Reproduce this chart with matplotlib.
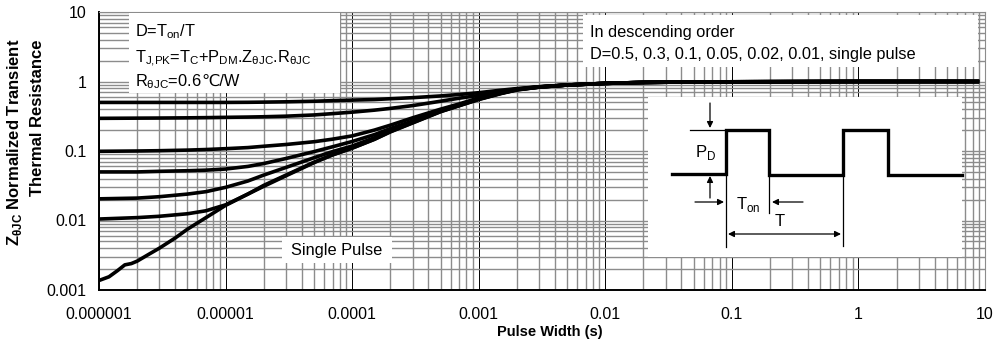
import matplotlib
matplotlib.use("Agg")
import matplotlib.pyplot as plt
from matplotlib.patches import Rectangle
from matplotlib.ticker import LogLocator, NullFormatter

plt.rcParams['font.family'] = ['Liberation Sans', 'DejaVu Sans']
plt.rcParams['mathtext.fontset'] = 'custom'
plt.rcParams['mathtext.rm'] = 'Liberation Sans'
plt.rcParams['mathtext.bf'] = 'Liberation Sans:bold'

# pulse width (s) and normalized Zth curves
t_single = [1e-6, 1.2e-6, 1.4e-6, 1.6e-6, 1.8e-6, 2e-6, 2.5e-6, 3e-6, 4e-6, 5e-6, 7e-6,
            1e-5, 1.5e-5, 2e-5, 3e-5, 5e-5, 7e-5, 1e-4, 1.5e-4, 2e-4, 3e-4, 5e-4, 7e-4,
            1e-3, 1.5e-3, 2e-3, 3e-3, 5e-3, 1e-2, 2e-2, 5e-2, 0.1, 1, 9]
z_single = [0.00137, 0.00155, 0.0019, 0.0023, 0.0024, 0.0026, 0.0033, 0.0040, 0.0056, 0.0075, 0.011,
            0.0165, 0.024, 0.031, 0.044, 0.068, 0.088, 0.11, 0.147, 0.188, 0.253, 0.368, 0.448,
            0.55, 0.67, 0.755, 0.83, 0.89, 0.94, 0.97, 0.985, 0.99, 1.0, 1.0]

t_duty = [1e-6, 2e-6, 3e-6, 5e-6, 7e-6, 1e-5, 1.5e-5, 2e-5, 3e-5, 5e-5, 7e-5, 1e-4, 1.5e-4,
          2e-4, 3e-4, 5e-4, 7e-4, 1e-3, 1.5e-3, 2e-3, 3e-3, 5e-3, 1e-2, 2e-2, 5e-2, 0.1, 1, 9]
z_d05 = [0.50, 0.50, 0.50, 0.50, 0.50, 0.50, 0.502, 0.505, 0.51, 0.52, 0.53, 0.54, 0.55,
         0.565, 0.585, 0.62, 0.65, 0.69, 0.75, 0.79, 0.84, 0.89, 0.94, 0.97, 0.985, 0.99, 1.0, 1.0]
z_d03 = [0.295, 0.297, 0.298, 0.300, 0.302, 0.305, 0.308, 0.311, 0.317, 0.33, 0.345, 0.362, 0.387,
         0.41, 0.45, 0.52, 0.575, 0.63, 0.72, 0.78, 0.84, 0.89, 0.94, 0.97, 0.985, 0.99, 1.0, 1.0]
z_d01 = [0.099, 0.100, 0.101, 0.103, 0.105, 0.108, 0.112, 0.117, 0.124, 0.136, 0.148, 0.165, 0.20,
         0.235, 0.30, 0.40, 0.475, 0.58, 0.70, 0.77, 0.835, 0.89, 0.94, 0.97, 0.985, 0.99, 1.0, 1.0]
z_d005 = [0.050, 0.050, 0.051, 0.052, 0.053, 0.055, 0.060, 0.066, 0.078, 0.098, 0.115, 0.137, 0.172,
          0.21, 0.27, 0.38, 0.46, 0.57, 0.69, 0.77, 0.835, 0.89, 0.94, 0.97, 0.985, 0.99, 1.0, 1.0]
z_d002 = [0.0205, 0.021, 0.022, 0.024, 0.026, 0.030, 0.037, 0.045, 0.058, 0.080, 0.098, 0.118, 0.155,
          0.195, 0.26, 0.375, 0.455, 0.56, 0.68, 0.765, 0.83, 0.89, 0.94, 0.97, 0.985, 0.99, 1.0, 1.0]
z_d001 = [0.0105, 0.011, 0.0115, 0.0125, 0.0138, 0.0168, 0.024, 0.032, 0.045, 0.069, 0.088, 0.11, 0.148,
          0.19, 0.255, 0.37, 0.45, 0.555, 0.675, 0.76, 0.83, 0.89, 0.94, 0.97, 0.985, 0.99, 1.0, 1.0]

x_ticks = [1e-6, 1e-5, 1e-4, 1e-3, 1e-2, 1e-1, 1, 10]
x_labels = ['0.000001', '0.00001', '0.0001', '0.001', '0.01', '0.1', '1', '10']
y_ticks = [0.001, 0.01, 0.1, 1, 10]
y_labels = ['0.001', '0.01', '0.1', '1', '10']

fig = plt.figure(figsize=(9.95, 3.41), dpi=100)
ax = fig.add_axes([99 / 995, 51 / 341, 886 / 995, 278 / 341])
ax.set_xscale('log')
ax.set_yscale('log')
ax.set_xlim(1e-6, 10)
ax.set_ylim(0.001, 10)

ax.xaxis.set_minor_locator(LogLocator(base=10, subs=range(2, 10), numticks=20))
ax.yaxis.set_minor_locator(LogLocator(base=10, subs=range(2, 10), numticks=20))
ax.xaxis.set_minor_formatter(NullFormatter())
ax.yaxis.set_minor_formatter(NullFormatter())
ax.set_xticks(x_ticks, x_labels)
ax.set_yticks(y_ticks, y_labels)
ax.tick_params(which='both', length=0, labelsize=11.5)
ax.tick_params(axis='x', pad=12)
ax.tick_params(axis='y', pad=9)

ax.grid(which='minor', color='#8c8c8c', lw=1.0)
ax.grid(which='major', axis='y', color='#8c8c8c', lw=1.0)
ax.grid(which='major', axis='x', color='black', lw=0.7)
for s in ['top', 'right']:
    ax.spines[s].set_color('#8c8c8c')
for s in ['left', 'bottom']:
    ax.spines[s].set_linewidth(1.4)

for z in [z_d05, z_d03, z_d01, z_d005, z_d002, z_d001]:
    ax.plot(t_duty, z, color='black', lw=2.6, zorder=3, solid_capstyle='butt')
ax.plot(t_single, z_single, color='black', lw=2.6, zorder=3, solid_capstyle='butt')

# overlay in pixel units for labels, boxes and the pulse sketch
ov = fig.add_axes([0, 0, 1, 1])
ov.set_xlim(0, 995)
ov.set_ylim(341, 0)
ov.axis('off')

for x0, y0, w, h in [(129, 13, 211, 80), (583, 15, 395, 52), (282, 237, 110, 26), (648, 97, 314, 160)]:
    ov.add_patch(Rectangle((x0, y0), w, h, facecolor='white', edgecolor='none'))

fs = 11.8
ov.text(135, 32, r'D=T$_{\mathrm{on}}$/T', fontsize=fs, va='center')
ov.text(135, 59, r'T$_{\mathrm{J{,}PK}}$=T$_{\mathrm{C}}$+P$_{\mathrm{DM}}$.Z$_{\mathrm{θJC}}$.R$_{\mathrm{θJC}}$',
        fontsize=fs, va='center')
r_txt = ov.text(135, 86, r'R$_{\mathrm{θJC}}$=0.6', fontsize=fs, va='baseline')
ov.annotate('℃/W', xy=(1, 86), xycoords=(r_txt, 'data'), fontsize=fs, va='baseline', ha='left')
ov.text(590, 32, 'In descending order', fontsize=fs, va='center')
ov.text(590, 54, 'D=0.5, 0.3, 0.1, 0.05, 0.02, 0.01, single pulse', fontsize=fs, va='center')
ov.text(337, 250, 'Single Pulse', fontsize=fs, ha='center', va='center')

# pulse train sketch
wave_x = [672, 726, 726, 769, 769, 843, 843, 888, 888, 962]
wave_y = [174, 174, 130, 130, 175, 175, 130, 130, 175, 175]
ov.plot(wave_x, wave_y, color='black', lw=2.4, solid_joinstyle='miter')
ov.plot([690, 726], [130, 130], color='black', lw=0.9)
ov.plot([726, 726], [174, 247], color='black', lw=0.9)
ov.plot([769, 769], [176, 213], color='black', lw=0.9)
ov.plot([843, 843], [176, 246], color='black', lw=0.9)

arrow = dict(arrowstyle='-|>', color='black', lw=0.9, mutation_scale=9, shrinkA=0, shrinkB=0)
ov.annotate('', xy=(710, 128), xytext=(710, 103), arrowprops=arrow)
ov.annotate('', xy=(710, 176), xytext=(710, 198), arrowprops=arrow)
ov.annotate('', xy=(724, 202), xytext=(695, 202), arrowprops=arrow)
ov.annotate('', xy=(772, 202), xytext=(803, 202), arrowprops=arrow)
ov.annotate('', xy=(841, 234), xytext=(728, 234), arrowprops=dict(arrow, arrowstyle='<|-|>'))
ov.text(706, 153, r'P$_{\mathrm{D}}$', fontsize=12, ha='center', va='center')
ov.text(748, 204, r'T$_{\mathrm{on}}$', fontsize=12, ha='center', va='center')
ov.text(780, 222, 'T', fontsize=12, ha='center', va='center')

# axis titles
ov.text(15, 38, r'Z$_{\mathbf{θJC}}$ Normalized Transient', rotation=90, fontsize=12,
        fontweight='bold', ha='center', va='top')
ov.text(38, 40, 'Thermal Resistance', rotation=90, fontsize=12,
        fontweight='bold', ha='center', va='top')
ov.text(550, 332, 'Pulse Width (s)', fontsize=10.5, fontweight='bold', ha='center', va='center')

fig.savefig('out.png', dpi=100)
